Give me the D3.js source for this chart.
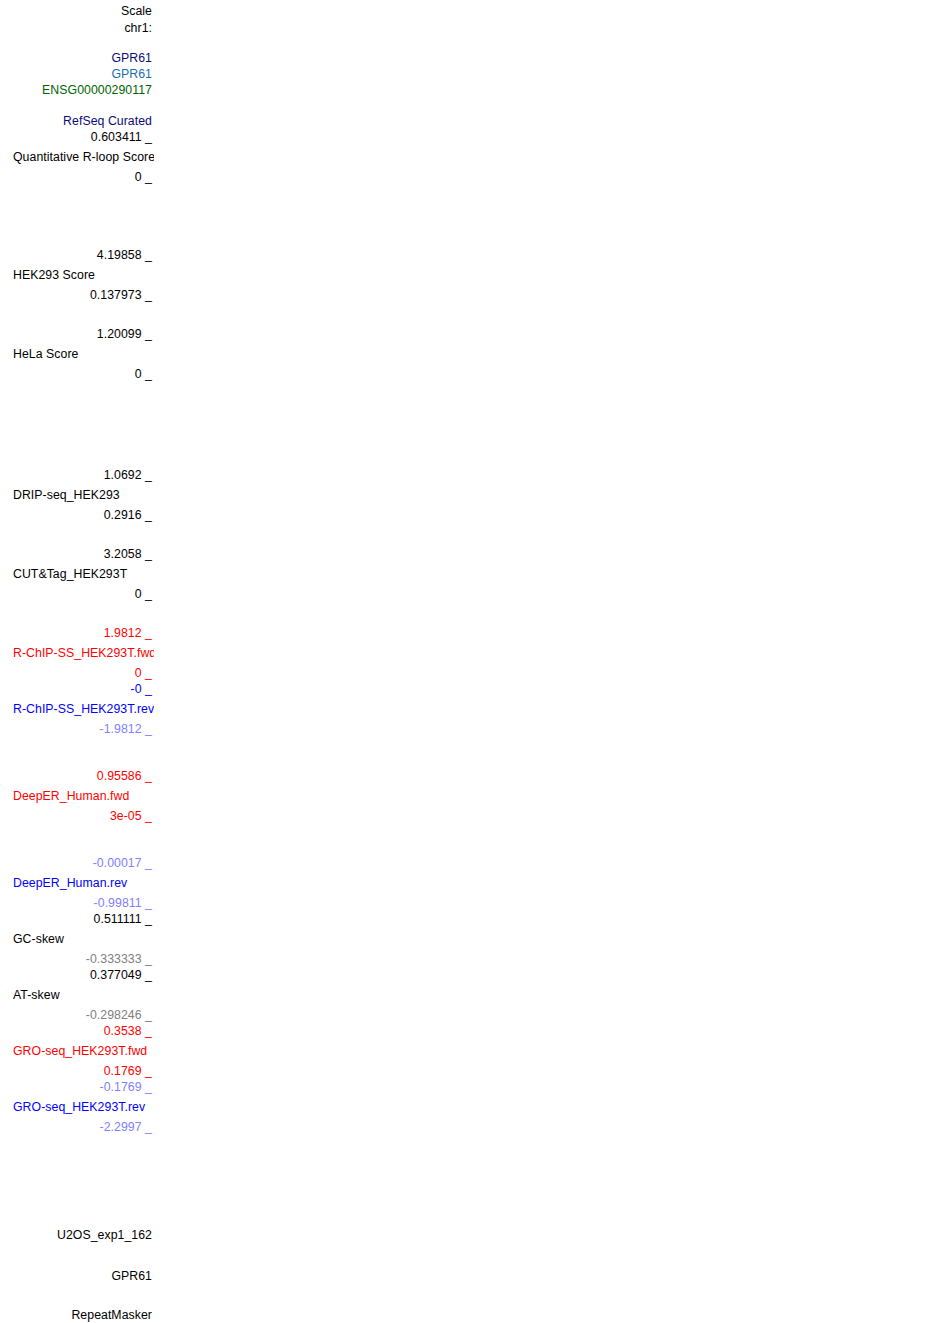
<!DOCTYPE html>
<html>
<head>
<meta charset="utf-8">
<script src="https://cdn.jsdelivr.net/npm/d3@7"></script>
<style>
  body { margin: 0; background: #fff; }
  text { font-family: "Liberation Sans", Arial, sans-serif; font-size: 12.3px; letter-spacing: 0.05px; }
</style>
</head>
<body>
<svg id="chart"></svg>
<script>
'use strict';

// header labels above the tracks
var headerLabels = ['Scale', 'chr1:', 'GPR61', 'GPR61', 'ENSG00000290117', 'RefSeq Curated'];
var headerColors = ['#000', '#000', '#0c0c78', '#1a6fae', '#006400', '#0c0c78'];
var headerY = [10, 27, 57, 73, 89, 120];

// wiggle tracks: name, value at top of the view, value at bottom
var trackNames = [
  'Quantitative R-loop Score', 'HEK293 Score', 'HeLa Score', 'DRIP-seq_HEK293',
  'CUT&Tag_HEK293T', 'R-ChIP-SS_HEK293T.fwd', 'R-ChIP-SS_HEK293T.rev',
  'DeepER_Human.fwd', 'DeepER_Human.rev', 'GC-skew', 'AT-skew',
  'GRO-seq_HEK293T.fwd', 'GRO-seq_HEK293T.rev'
];
var trackMax = ['0.603411', '4.19858', '1.20099', '1.0692', '3.2058', '1.9812', '-0',
  '0.95586', '-0.00017', '0.511111', '0.377049', '0.3538', '-0.1769'];
var trackMin = ['0', '0.137973', '0', '0.2916', '0', '0', '-1.9812',
  '3e-05', '-0.99811', '-0.333333', '-0.298246', '0.1769', '-2.2997'];

// colours per track (name, top value, bottom value)
var nameColor = ['#000', '#000', '#000', '#000', '#000', '#f00', '#00f',
  '#f00', '#00f', '#000', '#000', '#f00', '#00f'];
var maxColor = ['#000', '#000', '#000', '#000', '#000', '#f00', '#00f',
  '#f00', '#8080ff', '#000', '#000', '#f00', '#8080ff'];
var minColor = ['#000', '#000', '#000', '#000', '#000', '#f00', '#8080ff',
  '#f00', '#8080ff', '#808080', '#808080', '#f00', '#8080ff'];

// track top (y of the top value label)
var trackTop = [136, 254, 333, 474, 553, 632, 688, 775, 862, 918, 974, 1030, 1086];

// plain tracks at the bottom
var footLabels = ['U2OS_exp1_162', 'GPR61', 'RepeatMasker'];
var footY = [1234, 1275, 1314];

var W = 950, H = 1323, labelW = 154, rightX = 152, nameX = 13;
var svg = d3.select('#chart').attr('width', W).attr('height', H);

svg.append('defs').append('clipPath').attr('id', 'lc')
  .append('rect').attr('x', 0).attr('y', 0).attr('width', labelW).attr('height', H);

var g = svg.append('g').attr('clip-path', 'url(#lc)');

// pixel mapping for label rows (identity, centre -> baseline)
var y = d3.scaleLinear().domain([0, H]).range([4.5, H + 4.5]);

g.selectAll('text.head').data(headerLabels).enter().append('text')
  .attr('class', 'head')
  .attr('x', rightX).attr('y', function(d, i) { return y(headerY[i]); })
  .attr('text-anchor', 'end')
  .attr('fill', function(d, i) { return headerColors[i]; })
  .text(function(d) { return d; });

var tracks = trackNames.map(function(n, i) {
  return { name: n, max: trackMax[i], min: trackMin[i], top: trackTop[i], i: i };
});

var tg = g.selectAll('g.track').data(tracks).enter().append('g').attr('class', 'track');

tg.append('text')
  .attr('x', rightX).attr('y', function(d) { return y(d.top); })
  .attr('text-anchor', 'end')
  .attr('fill', function(d) { return maxColor[d.i]; })
  .text(function(d) { return d.max + ' _'; });

tg.append('text')
  .attr('x', nameX).attr('y', function(d) { return y(d.top + 20); })
  .attr('fill', function(d) { return nameColor[d.i]; })
  .text(function(d) { return d.name; });

tg.append('text')
  .attr('x', rightX).attr('y', function(d) { return y(d.top + 40); })
  .attr('text-anchor', 'end')
  .attr('fill', function(d) { return minColor[d.i]; })
  .text(function(d) { return d.min + ' _'; });

g.selectAll('text.foot').data(footLabels).enter().append('text')
  .attr('class', 'foot')
  .attr('x', rightX).attr('y', function(d, i) { return y(footY[i]); })
  .attr('text-anchor', 'end')
  .attr('fill', '#000')
  .text(function(d) { return d; });
</script>
</body>
</html>
